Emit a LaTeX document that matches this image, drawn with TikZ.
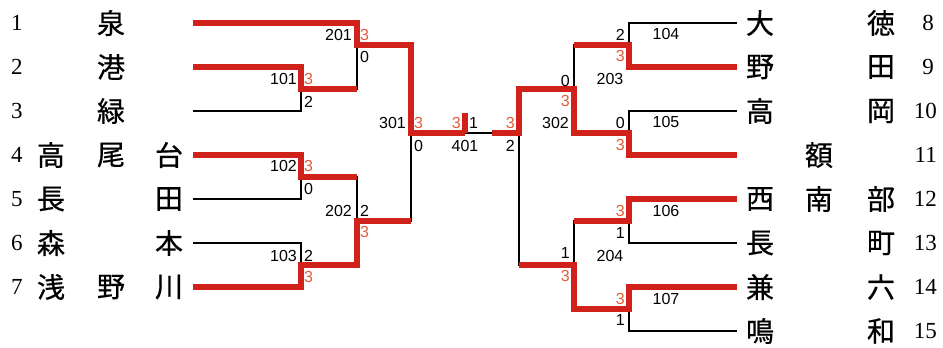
\documentclass[tikz,border=0pt]{standalone}
\usepackage{fontspec}
\newfontfamily\jpf[FakeBold=0.6]{Noto Sans CJK JP}
\newfontfamily\numf{Liberation Serif}
\newfontfamily\scf{Liberation Sans}
\definecolor{bred}{RGB}{208,34,26}
\definecolor{sred}{RGB}{228,92,62}
\tikzset{
  redline/.style={line width=6pt, draw=bred, line join=miter},
  blkline/.style={line width=1.3pt, draw=black},
  jpname/.style={font=\jpf\fontsize{28}{28}\selectfont, inner sep=0pt},
  seed/.style={font=\numf\fontsize{23}{23}\selectfont, inner sep=0pt},
  sc/.style={font=\scf\fontsize{16}{16}\selectfont, inner sep=0pt},
  scr/.style={sc, text=sred},
}
\begin{document}
\begin{tikzpicture}[x=1pt,y=-1pt]
\useasboundingbox (0,0) rectangle (943,348);
% team line ends
\coordinate (L1) at (193,23);
\coordinate (L2) at (193,67);
\coordinate (L3) at (193,111);
\coordinate (L4) at (193,155);
\coordinate (L5) at (193,199);
\coordinate (L6) at (193,243);
\coordinate (L7) at (193,287);
\coordinate (R8) at (737,23);
\coordinate (R9) at (737,67);
\coordinate (R10) at (737,111);
\coordinate (R11) at (737,155);
\coordinate (R12) at (737,199);
\coordinate (R13) at (737,243);
\coordinate (R14) at (737,287);
\coordinate (R15) at (737,331);
% junctions
\coordinate (j101) at (301,89);
\coordinate (j102) at (301,177);
\coordinate (j103) at (301,265);
\coordinate (j201) at (357,45);
\coordinate (j202) at (357,221);
\coordinate (j301) at (411,133);
\coordinate (fin) at (465,133);
\coordinate (finTop) at (465,113);
\coordinate (mid) at (492,133);
\coordinate (j302) at (519,133);
\coordinate (j203) at (574,89);
\coordinate (j204) at (574,265);
\coordinate (j104) at (629,45);
\coordinate (j105) at (629,133);
\coordinate (j106) at (629,221);
\coordinate (j107) at (629,309);
% black bracket
\draw[blkline] (L2) -| (j101) |- (L3);
\draw[blkline] (L1) -| (j201) |- (j101);
\draw[blkline] (L4) -| (j102) |- (L5);
\draw[blkline] (L6) -| (j103) |- (L7);
\draw[blkline] (j102) -| (j202) |- (j103);
\draw[blkline] (j201) -| (j301) |- (j202);
\draw[blkline] (j301) -- (j302);
\draw[blkline] (R8) -| (j104) |- (R9);
\draw[blkline] (R10) -| (j105) |- (R11);
\draw[blkline] (j104) -| (j203) |- (j105);
\draw[blkline] (R12) -| (j106) |- (R13);
\draw[blkline] (R14) -| (j107) |- (R15);
\draw[blkline] (j106) -| (j204) |- (j107);
\draw[blkline] (j203) -| (j302) |- (j204);
% winners
\draw[redline] (L1) -| (j201) -| (j301) -- (fin);
\draw[redline] (fin) -- (finTop);
\draw[redline] (L2) -| (j101) -- (j101 -| j201);
\draw[redline] (L4) -| (j102) -- (j102 -| j202);
\draw[redline] (L7) -| (j103) -| (j202) -- (j202 -| j301);
\draw[redline] (R9) -| (j104) -- (j104 -| j203);
\draw[redline] (R11) -| (j105) -| (j203) -| (j302) -- (mid);
\draw[redline] (R12) -| (j106) -- (j106 -| j204);
\draw[redline] (R14) -| (j107) -| (j204) -- (j204 -| j302);
% left seeds and names
\node[seed, anchor=west] (n1) at (11,23) {1};
\node[seed, anchor=west] (n2) at (11,67) {2};
\node[seed, anchor=west] (n3) at (11,111) {3};
\node[seed, anchor=west] (n4) at (11,155) {4};
\node[seed, anchor=west] (n5) at (11,199) {5};
\node[seed, anchor=west] (n6) at (11,243) {6};
\node[seed, anchor=west] (n7) at (11,287) {7};
\node[jpname] (t1b) at (111,23) {泉};
\node[jpname] (t2b) at (111,67) {港};
\node[jpname] (t3b) at (111,111) {緑};
\node[jpname] (t4a) at (51,155) {高};
\node[jpname] (t4b) at (111,155) {尾};
\node[jpname] (t4c) at (169,155) {台};
\node[jpname] (t5a) at (51,199) {長};
\node[jpname] (t5c) at (169,199) {田};
\node[jpname] (t6a) at (51,243) {森};
\node[jpname] (t6c) at (169,243) {本};
\node[jpname] (t7a) at (51,287) {浅};
\node[jpname] (t7b) at (111,287) {野};
\node[jpname] (t7c) at (169,287) {川};
% right names and seeds
\node[jpname] (t8a) at (760,23) {大};
\node[jpname] (t8c) at (881,23) {徳};
\node[jpname] (t9a) at (760,67) {野};
\node[jpname] (t9c) at (881,67) {田};
\node[jpname] (t10a) at (760,111) {高};
\node[jpname] (t10c) at (881,111) {岡};
\node[jpname] (t11b) at (819,155) {額};
\node[jpname] (t12a) at (760,199) {西};
\node[jpname] (t12b) at (819,199) {南};
\node[jpname] (t12c) at (881,199) {部};
\node[jpname] (t13a) at (760,243) {長};
\node[jpname] (t13c) at (881,243) {町};
\node[jpname] (t14a) at (760,287) {兼};
\node[jpname] (t14c) at (881,287) {六};
\node[jpname] (t15a) at (760,331) {鳴};
\node[jpname] (t15c) at (881,331) {和};
\node[seed, anchor=east] (n8) at (934,23) {8};
\node[seed, anchor=east] (n9) at (934,67) {9};
\node[seed, anchor=east] (n10) at (937,111) {10};
\node[seed, anchor=east] (n11) at (937,155) {11};
\node[seed, anchor=east] (n12) at (937,199) {12};
\node[seed, anchor=east] (n13) at (937,243) {13};
\node[seed, anchor=east] (n14) at (937,287) {14};
\node[seed, anchor=east] (n15) at (937,331) {15};
% match labels and scores, left
\node[sc, anchor=east] (m101) at (297,79) {101};
\node[scr, anchor=west] (m101a) at (304,79) {3};
\node[sc, anchor=west] (m101b) at (304,102) {2};
\node[sc, anchor=east] (m102) at (297,166) {102};
\node[scr, anchor=west] (m102a) at (304,166) {3};
\node[sc, anchor=west] (m102b) at (304,189) {0};
\node[sc, anchor=east] (m103) at (297,256) {103};
\node[sc, anchor=west] (m103a) at (304,256) {2};
\node[scr, anchor=west] (m103b) at (304,277) {3};
\node[sc, anchor=east] (m201) at (352,35) {201};
\node[scr, anchor=west] (m201a) at (360,35) {3};
\node[sc, anchor=west] (m201b) at (360,57) {0};
\node[sc, anchor=east] (m202) at (352,211) {202};
\node[sc, anchor=west] (m202a) at (360,211) {2};
\node[scr, anchor=west] (m202b) at (360,232) {3};
\node[sc, anchor=east] (m301) at (406,123) {301};
\node[scr, anchor=west] (m301a) at (414,123) {3};
\node[sc, anchor=west] (m301b) at (414,146) {0};
% final
\node[scr, anchor=east] (m401a) at (461,123) {3};
\node[sc, anchor=west] (m401b) at (469,123) {1};
\node[sc] (m401) at (465,146) {401};
% right
\node[scr, anchor=east] (m302a) at (515,123) {3};
\node[sc, anchor=east] (m302b) at (515,146) {2};
\node[sc, anchor=east] (m302) at (569,123) {302};
\node[sc, anchor=east] (m203a) at (570,81) {0};
\node[scr, anchor=east] (m203b) at (570,101) {3};
\node[sc] (m203) at (610,79) {203};
\node[sc, anchor=east] (m204a) at (570,253) {1};
\node[scr, anchor=east] (m204b) at (570,276) {3};
\node[sc] (m204) at (610,256) {204};
\node[sc, anchor=east] (m104a) at (625,35) {2};
\node[scr, anchor=east] (m104b) at (625,56) {3};
\node[sc] (m104) at (666,34) {104};
\node[sc, anchor=east] (m105a) at (625,123) {0};
\node[scr, anchor=east] (m105b) at (625,145) {3};
\node[sc] (m105) at (666,122) {105};
\node[scr, anchor=east] (m106a) at (625,211) {3};
\node[sc, anchor=east] (m106b) at (625,233) {1};
\node[sc] (m106) at (666,211) {106};
\node[scr, anchor=east] (m107a) at (625,299) {3};
\node[sc, anchor=east] (m107b) at (625,320) {1};
\node[sc] (m107) at (666,299) {107};
\end{tikzpicture}
\end{document}
